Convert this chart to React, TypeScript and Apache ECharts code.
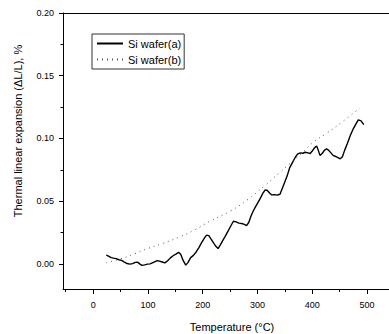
import React, { useEffect, useRef } from "react";
import * as echarts from "echarts";

const tempA = [24, 28, 33, 37, 42, 47, 52, 57, 62, 67, 72, 77, 81, 85, 89, 94, 99, 104, 109, 113, 117, 121, 126, 131, 136, 141, 146, 151, 156, 160, 164, 169, 173, 178, 183, 188, 193, 198, 203, 207, 211, 215, 220, 224, 228, 232, 237, 241, 246, 251, 256, 261, 266, 271, 276, 280, 284, 288, 292, 297, 301, 306, 310, 314, 318, 322, 326, 331, 336, 341, 345, 350, 354, 359, 364, 369, 373, 378, 383, 387, 392, 396, 400, 404, 408, 411, 414, 418, 422, 426, 430, 434, 438, 442, 446, 451, 455, 459, 464, 469, 474, 479, 484, 489, 494];
const expA = [0.007, 0.0062, 0.005, 0.0046, 0.0042, 0.0033, 0.0028, 0.0015, 0.0003, -0.0002, 0.0002, 0.0012, 0.0014, 0.0, -0.0012, -0.0008, -0.0002, 0.0, 0.001, 0.0018, 0.0026, 0.0022, 0.0015, 0.0008, 0.0025, 0.0048, 0.0065, 0.0078, 0.0092, 0.0075, 0.003, -0.001, 0.001, 0.005, 0.0068, 0.0095, 0.013, 0.017, 0.0205, 0.023, 0.0225, 0.02, 0.0165, 0.014, 0.0122, 0.015, 0.019, 0.022, 0.026, 0.03, 0.034, 0.0335, 0.0325, 0.0322, 0.0315, 0.0305, 0.033, 0.038, 0.042, 0.046, 0.049, 0.053, 0.0565, 0.059, 0.0585, 0.0565, 0.055, 0.0552, 0.0548, 0.0555, 0.06, 0.0655, 0.07, 0.077, 0.081, 0.085, 0.0875, 0.0885, 0.0882, 0.089, 0.0885, 0.088, 0.09, 0.0925, 0.094, 0.0905, 0.0865, 0.088, 0.0905, 0.0918, 0.0905, 0.0885, 0.0865, 0.0858, 0.085, 0.0838, 0.0855, 0.0905, 0.096, 0.102, 0.107, 0.111, 0.1148, 0.114, 0.111];

const tempB = [24, 50, 75, 98, 125, 159, 185, 213, 250, 283, 314, 341, 359, 380, 402, 426, 457, 487];
const expB = [0.001, 0.004, 0.008, 0.012, 0.016, 0.0217, 0.027, 0.034, 0.042, 0.0516, 0.0627, 0.073, 0.08, 0.088, 0.097, 0.104, 0.114, 0.1244];

const xMajorTicks = [0, 100, 200, 300, 400, 500];
const xMinorTicks = [-50, 50, 150, 250, 350, 450];
const yMajorTicks = [0, 0.05, 0.1, 0.15, 0.2];
const yMinorTicks = [0.025, 0.075, 0.125, 0.175];

const seriesNames = ["Si wafer(a)", "Si wafer(b)"];
const xTitle = "Temperature (°C)";
const yTitle = "Thermal linear expansion (ΔL/L), %";

const FONT = "'Liberation Sans', Arial, sans-serif";

export default function App() {
  const ref = useRef<HTMLDivElement>(null);
  useEffect(() => {
    if (!ref.current) return;
    const chart = echarts.init(ref.current, undefined, { renderer: "svg" });
    const xMin = -55;
    const xMax = 540;
    const yMin = -0.02;
    const yMax = 0.2;
    chart.setOption({
      animation: false,
      backgroundColor: "#fff",
      textStyle: { fontFamily: FONT },
      grid: { left: 63, right: 0, top: 13, bottom: 45, containLabel: false },
      legend: {
        left: 92,
        top: 34,
        orient: "vertical",
        data: seriesNames,
        padding: [4, 3, 4, 4],
        itemWidth: 26,
        itemHeight: 12,
        itemGap: 5,
        borderColor: "#333",
        borderWidth: 1,
        borderRadius: 0,
        itemStyle: { opacity: 0 },
        textStyle: { fontSize: 11, color: "#000", fontFamily: FONT },
      },
      xAxis: [
        {
          type: "value",
          min: xMin,
          max: xMax,
          position: "bottom",
          axisLine: { show: true, onZero: false, lineStyle: { color: "#000", width: 1 } },
          axisTick: { show: true, inside: false, length: 5, customValues: xMajorTicks, lineStyle: { color: "#000" } },
          axisLabel: { show: true, customValues: xMajorTicks, margin: 11, fontSize: 9, color: "#000", fontFamily: FONT },
          splitLine: { show: false },
        },
        {
          type: "value",
          min: xMin,
          max: xMax,
          position: "bottom",
          axisLine: { show: false, onZero: false },
          axisTick: { show: true, inside: false, length: 3, customValues: xMinorTicks, lineStyle: { color: "#000" } },
          axisLabel: { show: false },
          splitLine: { show: false },
        },
        {
          type: "value",
          min: xMin,
          max: xMax,
          position: "top",
          axisLine: { show: true, onZero: false, lineStyle: { color: "#000", width: 1 } },
          axisTick: { show: false },
          axisLabel: { show: false },
          splitLine: { show: false },
        },
      ],
      yAxis: [
        {
          type: "value",
          min: yMin,
          max: yMax,
          position: "left",
          axisLine: { show: true, onZero: false, lineStyle: { color: "#000", width: 1 } },
          axisTick: { show: true, inside: false, length: 4, customValues: yMajorTicks, lineStyle: { color: "#000" } },
          axisLabel: {
            show: true,
            customValues: yMajorTicks,
            margin: 9,
            fontSize: 9,
            color: "#000",
            fontFamily: FONT,
            formatter: (v: number) => v.toFixed(2),
          },
          splitLine: { show: false },
        },
        {
          type: "value",
          min: yMin,
          max: yMax,
          position: "left",
          axisLine: { show: false, onZero: false },
          axisTick: { show: true, inside: false, length: 2.5, customValues: yMinorTicks, lineStyle: { color: "#000" } },
          axisLabel: { show: false },
          splitLine: { show: false },
        },
      ],
      series: [
        {
          name: seriesNames[0],
          type: "line",
          xAxisIndex: 0,
          yAxisIndex: 0,
          data: tempA.map((t, i) => [t, expA[i]]),
          showSymbol: false,
          symbol: "none",
          smooth: false,
          lineStyle: { color: "#000", width: 1.4 },
          itemStyle: { color: "#000" },
        },
        {
          name: seriesNames[1],
          type: "line",
          xAxisIndex: 0,
          yAxisIndex: 0,
          data: tempB.map((t, i) => [t, expB[i]]),
          showSymbol: false,
          symbol: "none",
          smooth: true,
          lineStyle: { color: "#555", width: 1, type: [1, 4] },
          itemStyle: { color: "#555" },
        },
      ],
      graphic: [
        {
          type: "text",
          x: 18,
          y: 131,
          rotation: Math.PI / 2,
          style: {
            text: yTitle,
            fontSize: 11,
            fontFamily: FONT,
            fill: "#000",
            textAlign: "center",
            textVerticalAlign: "middle",
          },
        },
        {
          type: "text",
          x: 232,
          y: 327,
          style: {
            text: xTitle,
            fontSize: 11,
            fontFamily: FONT,
            fill: "#000",
            textAlign: "center",
            textVerticalAlign: "middle",
          },
        },
      ],
    });
    return () => chart.dispose();
  }, []);
  return (
    <div
      ref={ref}
      style={{ position: "fixed", left: 0, top: 0, width: 389, height: 334, background: "#fff" }}
    />
  );
}
